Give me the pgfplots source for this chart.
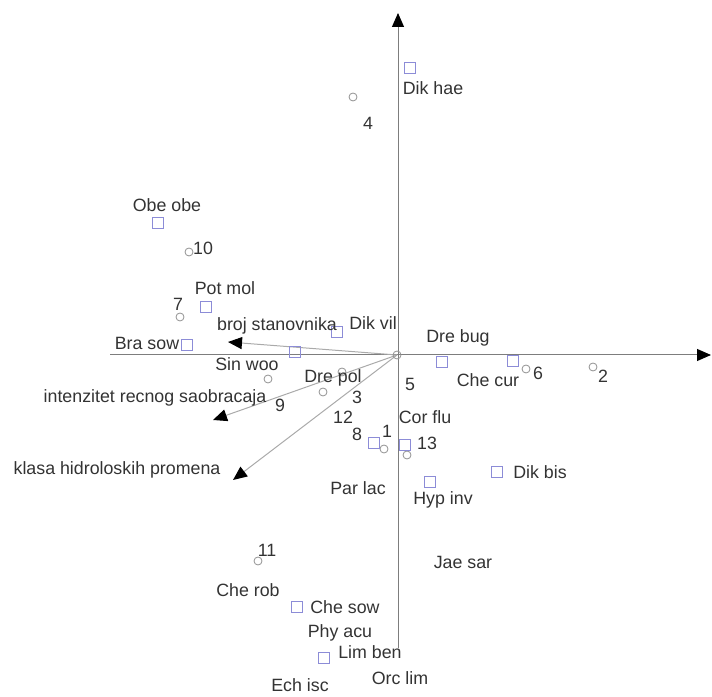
\documentclass[border=0pt]{standalone}
\usepackage{pgfplots}
\pgfplotsset{compat=1.18}
\usepackage{fontspec}
\setmainfont{Liberation Sans}
\usetikzlibrary{arrows.meta}
\definecolor{axisgray}{RGB}{125,125,125}
\definecolor{envgray}{RGB}{170,170,170}
\definecolor{sitegray}{RGB}{145,145,145}
\definecolor{specblue}{RGB}{140,140,215}
\begin{document}
\begin{tikzpicture}
\begin{axis}[
    scale only axis,
    width=356pt, height=348pt,
    xmin=-3.97, xmax=3.15,
    ymin=-3.41, ymax=3.55,
    axis lines=none,
    clip=false,
    tip/.style={-{Triangle[length=7pt,width=6pt,color=black]}},
    ]
% ordination axes
\addplot[axisgray, line width=0.5pt, tip] coordinates {(-2.87,0) (3.14,0)};
\addplot[axisgray, line width=0.5pt, tip] coordinates {(0.01,-2.93) (0.01,3.42)};
% environmental variables
\addplot[envgray, line width=0.5pt, tip] coordinates {(0,0) (-1.69,0.13)};
\addplot[envgray, line width=0.5pt, tip] coordinates {(0,0) (-1.84,-0.65)};
\addplot[envgray, line width=0.5pt, tip] coordinates {(0,0) (-1.64,-1.25)};
% sites
\addplot[only marks, mark=o, mark size=2pt, mark options={sitegray, line width=0.4pt}] coordinates {
    (-0.44,2.58) (-2.08,1.03) (-2.17,0.38) (-1.29,-0.24) (-0.74,-0.37)
    (-0.55,-0.17) (0,0) (-0.13,-0.94) (0.10,-1.00) (1.29,-0.14)
    (1.96,-0.12) (-1.39,-2.06)
};
% species
\addplot[only marks, mark=square, mark size=2.8pt, mark options={specblue, line width=0.4pt}] coordinates {
    (0.13,2.87) (-2.39,1.32) (-1.91,0.48) (-2.10,0.10) (-1.02,0.03)
    (-0.60,0.23) (0.45,-0.07) (1.16,-0.06) (-0.23,-0.88) (0.08,-0.90)
    (0.33,-1.27) (1.00,-1.17) (-1.00,-2.52) (-0.73,-3.03)
};
% labels
\addplot[draw=none, mark=none, point meta=explicit symbolic, nodes near coords,
    every node near coord/.append style={anchor=center, inner sep=0pt,
        font=\fontsize{8.9}{9}\selectfont, text=black!80}] coordinates {
    (0.36,2.67) [Dik hae]
    (-0.29,2.32) [4]
    (-2.30,1.50) [Obe obe]
    (-1.94,1.07) [10]
    (-1.72,0.67) [Pot mol]
    (-2.19,0.51) [7]
    (-1.20,0.29) [broj stanovnika]
    (-0.24,0.32) [Dik vil]
    (-2.50,0.12) [Bra sow]
    (-1.50,-0.09) [Sin woo]
    (-0.64,-0.23) [Dre pol]
    (-2.42,-0.43) [intenzitet recnog saobracaja]
    (-1.17,-0.50) [9]
    (-0.40,-0.42) [3]
    (-0.54,-0.62) [12]
    (-0.40,-0.79) [8]
    (-0.10,-0.76) [1]
    (-2.80,-1.15) [klasa hidroloskih promena]
    (-0.39,-1.33) [Par lac]
    (0.61,0.17) [Dre bug]
    (0.91,-0.25) [Che cur]
    (1.41,-0.18) [6]
    (2.06,-0.21) [2]
    (0.13,-0.29) [5]
    (0.28,-0.62) [Cor flu]
    (0.30,-0.88) [13]
    (1.43,-1.17) [Dik bis]
    (0.46,-1.45) [Hyp inv]
    (-1.30,-1.95) [11]
    (0.66,-2.07) [Jae sar]
    (-1.49,-2.35) [Che rob]
    (-0.52,-2.52) [Che sow]
    (-0.57,-2.78) [Phy acu]
    (-0.27,-2.97) [Lim ben]
    (-0.97,-3.30) [Ech isc]
    (0.03,-3.23) [Orc lim]
};
\end{axis}
\pgfresetboundingbox
\path (current axis.south west) rectangle (current axis.north east);
\end{tikzpicture}
\end{document}
